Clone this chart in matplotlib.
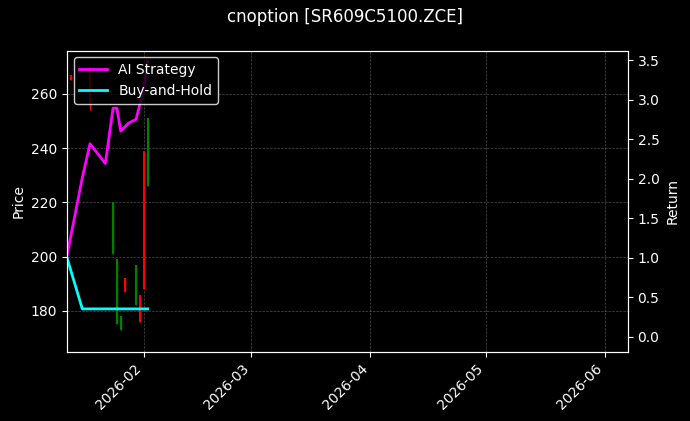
import datetime
import matplotlib
matplotlib.use('Agg')
from matplotlib import pyplot as plt, dates

plt.style.use('dark_background')

d = lambda m, dd: datetime.datetime(2026, m, dd)

# candles: date, open, close, low, high
c_dates = [d(1, 13), d(1, 18), d(1, 23), d(1, 24), d(1, 25), d(1, 26), d(1, 27), d(1, 30), d(1, 31), d(2, 1), d(2, 2)]
c_open = [267, 270, 240, 201, 175, 173, 192, 182, 186, 239, 226]
c_close = [265, 256, 244, 220, 199, 178, 187, 197, 176, 188, 251]
c_low = [265, 254, 240, 201, 175, 173, 187, 182, 176, 188, 226]
c_high = [267, 270, 244, 220, 199, 178, 192, 197, 186, 239, 251]

r_dates = [d(1, 12), d(1, 16), d(1, 18), d(1, 22), d(1, 24), d(1, 25), d(1, 26), d(1, 28), d(1, 30), d(2, 1), d(2, 2)]
ai_ret = [1.02, 2.01, 2.44, 2.19, 2.89, 2.89, 2.6, 2.7, 2.75, 3.14, 3.48]
bh_dates = [d(1, 12), d(1, 16), d(2, 2)]
bh_ret = [1.0, 0.35, 0.35]

fig = plt.figure(figsize=(6.9, 4.21), dpi=100)
fig.subplots_adjust(left=0.097, right=0.91, top=0.88, bottom=0.165)
ax = fig.add_subplot(1, 1, 1)
for t, o, c, lo, hi in zip(c_dates, c_open, c_close, c_low, c_high):
    col = 'green' if c >= o else 'red'
    ax.vlines(t, lo, hi, color=col, linewidth=1)
    ax.vlines(t, min(o, c), max(o, c), color=col, linewidth=1.5)
ax.set_ylabel('Price')
ax.set_ylim(165, 276)
ax.grid(True, linestyle='--', linewidth=0.5, color='gray', alpha=0.6)

ax2 = ax.twinx()
ax2.plot(r_dates, ai_ret, color='magenta', linewidth=2, label='AI Strategy')
ax2.plot(bh_dates, bh_ret, color='cyan', linewidth=2, label='Buy-and-Hold')
ax2.set_ylabel('Return')
ax2.set_ylim(-0.19, 3.62)
ax2.legend(loc='upper left', edgecolor='white')

ax.set_xlim(d(1, 12), d(6, 7))
ax.xaxis.set_major_locator(dates.MonthLocator())
ax.xaxis.set_major_formatter(dates.DateFormatter('%Y-%m'))
plt.setp(ax.get_xticklabels(), rotation=45, ha='right')

fig.suptitle('cnoption [SR609C5100.ZCE]')
fig.savefig('out.png')
